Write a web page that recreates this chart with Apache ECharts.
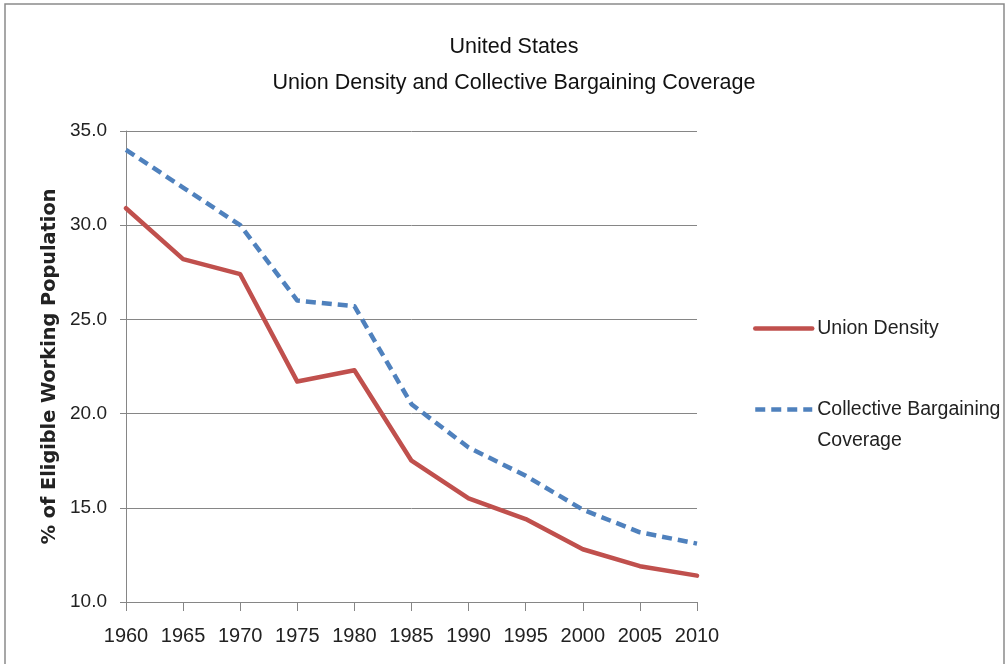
<!DOCTYPE html>
<html>
<head>
<meta charset="utf-8">
<script src="https://cdn.jsdelivr.net/npm/echarts@6/dist/echarts.min.js"></script>
<style>
html,body{margin:0;padding:0;background:#fff;}
#c{width:1006px;height:664px;}
</style>
</head>
<body>
<div id="c"></div>
<script>
var years = ['1960','1965','1970','1975','1980','1985','1990','1995','2000','2005','2010'];
var unionDensity = [30.9, 28.2, 27.4, 21.7, 22.3, 17.5, 15.5, 14.4, 12.8, 11.9, 11.4];
var bargainingCoverage = [34.0, 32.0, 30.0, 26.0, 25.7, 20.5, 18.2, 16.7, 14.9, 13.7, 13.1];
var seriesNames = ['Union Density', 'Collective Bargaining\nCoverage'];
var titleText = 'United States\nUnion Density and Collective Bargaining Coverage';
var yAxisName = '% of Eligible Working Population';

var FONT = '"Liberation Sans", Arial, sans-serif';
var chart = echarts.init(document.getElementById('c'), null, {renderer: 'canvas'});
var legendCommon = {
  left: 753, padding: 0,
  itemWidth: 57, itemHeight: 20,
  itemStyle: {opacity: 0},
  lineStyle: {width: 4.5}
};
var option = {
  backgroundColor: '#ffffff',
  animation: false,
  graphic: [{
    type: 'rect', silent: true, z: -1,
    shape: {x: 5, y: 4, width: 999, height: 700},
    style: {fill: 'none', stroke: '#8a8a8a', lineWidth: 1.5}
  }],
  title: {
    text: titleText,
    left: 514, top: 29.5, textAlign: 'center', padding: 0,
    textStyle: {fontFamily: FONT, fontSize: 21.5, fontWeight: 'normal', color: '#111', lineHeight: 36}
  },
  grid: {left: 126, right: 309, top: 131, bottom: 62, containLabel: false},
  legend: [Object.assign({}, legendCommon, {
    data: [seriesNames[0]],
    top: 318.5,
    textStyle: {fontFamily: FONT, fontSize: 19.5, color: '#222', lineHeight: 20}
  }), Object.assign({}, legendCommon, {
    data: [seriesNames[1]],
    top: 363,
    formatter: function (name) { return '\n' + name; },
    textStyle: {fontFamily: FONT, fontSize: 19.5, color: '#222', lineHeight: 31}
  })],
  xAxis: {
    type: 'category', data: years, boundaryGap: false,
    axisLine: {lineStyle: {color: '#868686', width: 1}},
    axisTick: {show: true, length: 9, lineStyle: {color: '#868686'}},
    axisLabel: {fontFamily: FONT, fontSize: 20, color: '#222', margin: 24.5, interval: 0},
    splitLine: {show: false}
  },
  yAxis: {
    type: 'value', min: 10, max: 35, interval: 5,
    name: yAxisName, nameLocation: 'middle', nameRotate: 90, nameGap: 56,
    nameTextStyle: {fontFamily: '"DejaVu Sans", Verdana, sans-serif', fontWeight: 'bold', fontSize: 19.3, color: '#222'},
    axisLine: {show: true, lineStyle: {color: '#868686', width: 1}},
    axisTick: {show: true, length: 6, lineStyle: {color: '#868686'}},
    axisLabel: {fontFamily: FONT, fontSize: 19, color: '#222', margin: 19, formatter: function (v) { return v.toFixed(1); }},
    splitLine: {show: true, lineStyle: {color: '#868686', width: 1}}
  },
  series: [{
    name: seriesNames[0], type: 'line', data: unionDensity,
    symbol: 'none', color: '#c0504d',
    lineStyle: {color: '#c0504d', width: 4.5, cap: 'round', join: 'round'}
  }, {
    name: seriesNames[1], type: 'line', data: bargainingCoverage,
    symbol: 'none', color: '#4f81bd',
    lineStyle: {color: '#4f81bd', width: 4.5, type: [10, 6], join: 'round'}
  }]
};
chart.setOption(option);
</script>
</body>
</html>
